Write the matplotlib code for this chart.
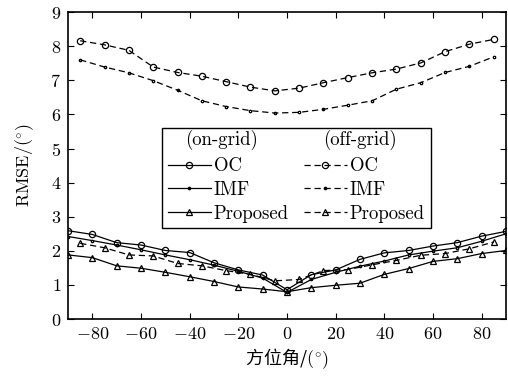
"""
RMSE versus azimuth, on-grid and off-grid cases
"""

import numpy as np
import matplotlib
matplotlib.use('Agg')
import matplotlib.pyplot as plt
from matplotlib.lines import Line2D

# ---------------------------------------------------------------------------- #
# Data
# ---------------------------------------------------------------------------- #
angle_on = [-90, -80, -70, -60, -50, -40, -30, -20, -10, 0,
            10, 20, 30, 40, 50, 60, 70, 80, 90]
angle_off = [-85, -75, -65, -55, -45, -35, -25, -15, -5,
             5, 15, 25, 35, 45, 55, 65, 75, 85]

oc_on = [2.59, 2.48, 2.24, 2.17, 2.01, 1.95, 1.65, 1.44, 1.29, 0.86,
         1.30, 1.44, 1.75, 1.94, 2.01, 2.14, 2.24, 2.43, 2.57]
imf_on = [2.42, 2.30, 2.17, 2.03, 1.88, 1.74, 1.58, 1.40, 1.20, 0.78,
          1.16, 1.37, 1.55, 1.70, 1.88, 1.99, 2.09, 2.28, 2.50]
prop_on = [1.88, 1.80, 1.56, 1.49, 1.37, 1.24, 1.10, 0.94, 0.88, 0.80,
           0.92, 0.99, 1.05, 1.31, 1.48, 1.69, 1.77, 1.92, 2.01]

oc_off = [8.16, 8.04, 7.88, 7.39, 7.23, 7.12, 6.96, 6.80, 6.69,
          6.77, 6.93, 7.08, 7.22, 7.33, 7.51, 7.84, 8.06, 8.20]
imf_off = [7.60, 7.39, 7.22, 6.99, 6.71, 6.40, 6.23, 6.11, 6.04,
           6.06, 6.15, 6.27, 6.40, 6.74, 6.93, 7.23, 7.41, 7.69]
prop_off = [2.22, 2.09, 1.88, 1.85, 1.63, 1.56, 1.42, 1.31, 1.12,
            1.16, 1.42, 1.45, 1.59, 1.72, 1.87, 1.92, 2.06, 2.26]

method_labels = ['OC', 'IMF', 'Proposed']
header_labels = ['(on-grid)', '(off-grid)']
xticks = [-80, -60, -40, -20, 0, 20, 40, 60, 80]
yticks = list(range(10))
xlabel = '方位角/$(^{\\circ})$'
ylabel = 'RMSE/$(^{\\circ})$'

# ---------------------------------------------------------------------------- #
# Style
# ---------------------------------------------------------------------------- #
plt.rcParams['font.family'] = ['cmr10', 'DejaVu Serif']
plt.rcParams['mathtext.fontset'] = 'cm'
plt.rcParams['axes.formatter.use_mathtext'] = True
plt.rcParams['font.size'] = 13

fig = plt.figure(figsize=(5.08, 3.78), dpi=100)
ax = fig.add_axes([0.1339, 0.156, 0.8621, 0.812])

markers = ['o', '.', '^']
msizes = [4.5, 3.5, 5]
on_series = [oc_on, imf_on, prop_on]
off_series = [oc_off, imf_off, prop_off]

on_handles = []
off_handles = []
for k in range(3):
    h, = ax.plot(angle_on, on_series[k], '-', color='k', lw=0.9,
                 marker=markers[k], ms=msizes[k], mfc='none', mew=0.9)
    on_handles.append(h)
    h, = ax.plot(angle_off, off_series[k], '--', color='k', lw=0.9,
                 marker=markers[k], ms=msizes[k], mfc='none', mew=0.9,
                 dashes=(5, 3))
    off_handles.append(h)

ax.set_xlim(-90, 90)
ax.set_ylim(0, 9)
ax.set_xticks(xticks)
ax.set_xticklabels([f'${t}$' for t in xticks])
ax.set_yticks(yticks)
ax.tick_params(direction='in', length=4, width=0.8, top=True, right=True,
               labelsize=13, pad=5)
for sp in ax.spines.values():
    sp.set_linewidth(1.2)

ax.set_ylabel(ylabel, fontsize=13, labelpad=10)
ax.set_xlabel(xlabel, fontsize=13, labelpad=3,
              family=['Noto Sans CJK SC', 'DejaVu Sans'])

# ---------------------------------------------------------------------------- #
# Legend: two columns, headed (on-grid) / (off-grid)
# ---------------------------------------------------------------------------- #
blank = Line2D([], [], linestyle='none', marker='none')
handles = [blank] + on_handles + [blank] + off_handles
labels = [' '] + method_labels + [' '] + method_labels
leg = ax.legend(handles, labels, ncol=2, loc='lower left',
                bbox_to_anchor=(0.215, 0.296), borderaxespad=0,
                fancybox=False, edgecolor='k', framealpha=1,
                handlelength=2.3, handletextpad=0.15, columnspacing=0.8,
                labelspacing=0.3, borderpad=0.3, fontsize=13.5)
leg.get_frame().set_linewidth(1.0)

# column headers sit in the blank first row
ax.text(0.267, 0.583, header_labels[0], transform=ax.transAxes,
        ha='left', va='center', fontsize=13.5, zorder=10)
ax.text(0.582, 0.583, header_labels[1], transform=ax.transAxes,
        ha='left', va='center', fontsize=13.5, zorder=10)

fig.savefig('out.png', dpi=100)
plt.close()
